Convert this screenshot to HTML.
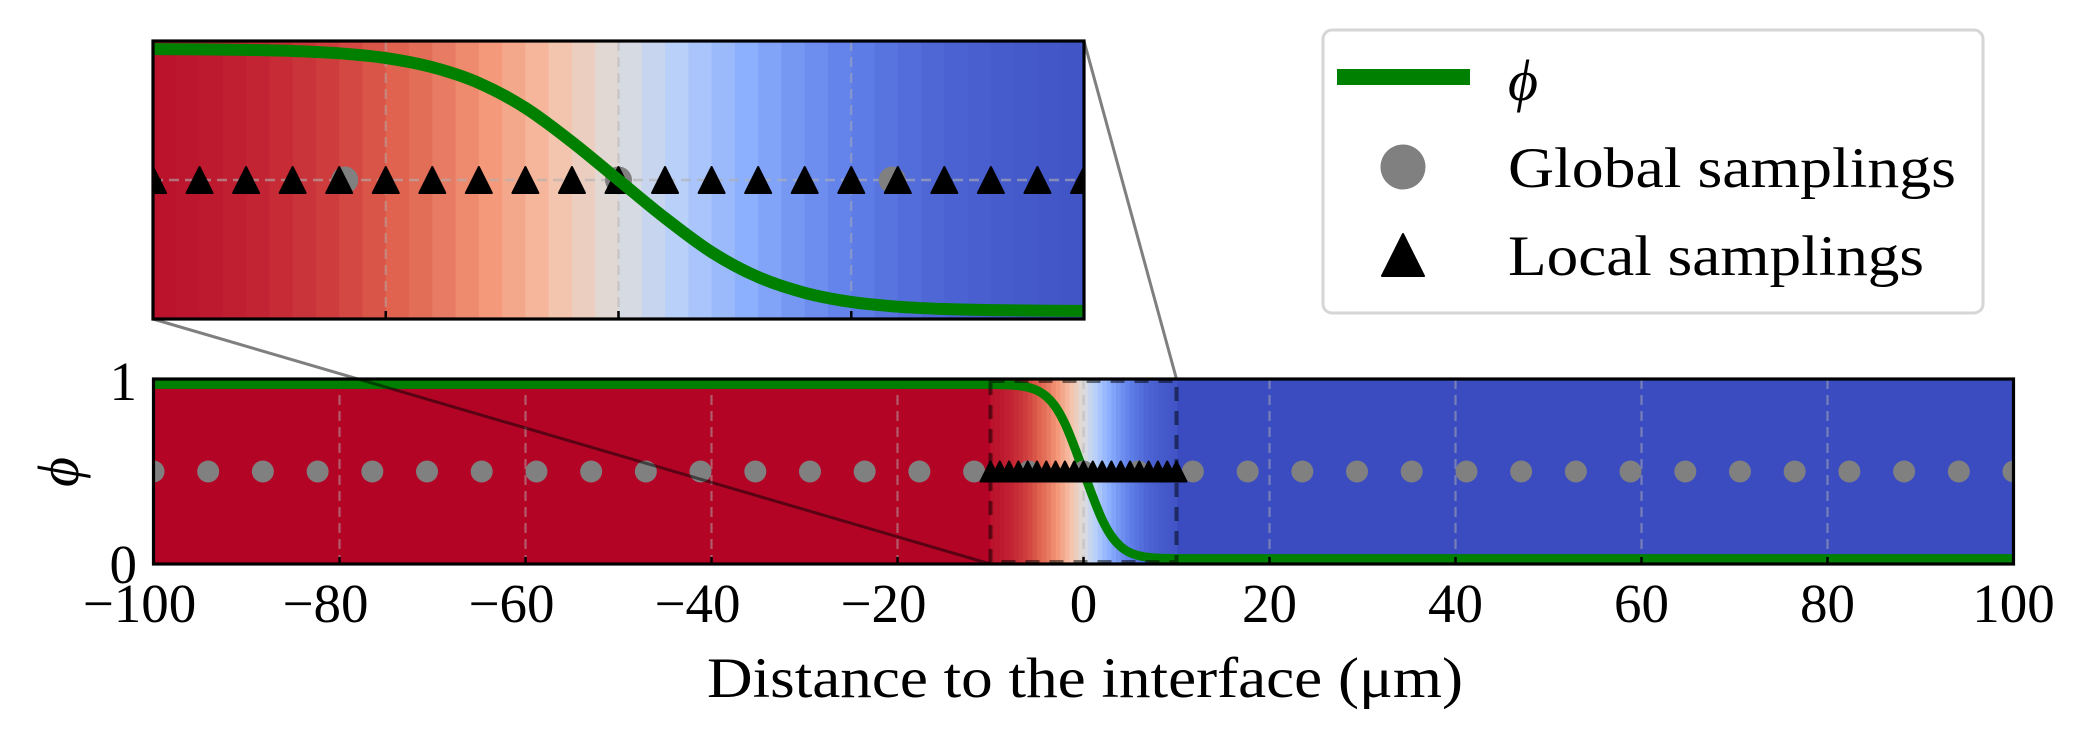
<!DOCTYPE html>
<html><head><meta charset="utf-8"><style>
html,body{margin:0;padding:0;background:#fff;width:2086px;height:745px;overflow:hidden}
svg text{font-family:"Liberation Serif","DejaVu Serif",serif;fill:#000}
</style></head><body>
<svg id="chart" width="2086" height="745" viewBox="0 0 2086 745" xmlns="http://www.w3.org/2000/svg">
<defs>
<clipPath id="clipMain"><rect x="153.5" y="379" width="1860" height="185"/></clipPath>
<clipPath id="clipInset"><rect x="153" y="41" width="931" height="278"/></clipPath>
</defs>
<g id="mainBg" clip-path="url(#clipMain)"></g>
<g id="mainGrid" clip-path="url(#clipMain)"></g>
<g id="mainMarks" clip-path="url(#clipMain)"></g>
<g id="connectors"></g>
<g id="mainFrame"></g>
<g id="insetBg" clip-path="url(#clipInset)"></g>
<g id="insetGrid" clip-path="url(#clipInset)"></g>
<g id="insetMarks" clip-path="url(#clipInset)"></g>
<g id="insetFrame"></g>
<g id="labels"></g>
<g id="legend">
  <rect x="1323" y="30" width="660" height="283" rx="9" fill="#fff" stroke="#d6d6d6" stroke-width="3"/>
  <line x1="1337" y1="77" x2="1470" y2="77" stroke="#008000" stroke-width="16"/>
  <text x="1508" y="100" font-size="58" font-style="italic">ϕ</text>
  <circle cx="1403" cy="167" r="22.5" fill="#808080"/>
  <text x="1508" y="187" font-size="57" textLength="448" lengthAdjust="spacingAndGlyphs">Global samplings</text>
  <path d="M1403 234 L1424 276 L1382 276 Z" fill="#000" stroke="#000" stroke-width="2" stroke-linejoin="round"/>
  <text x="1508" y="275" font-size="57" textLength="416" lengthAdjust="spacingAndGlyphs">Local samplings</text>
</g>
</svg>
<script>
// ---- data ----
const phiX = [-10,-9,-8,-7,-6,-5,-4,-3,-2,-1,0,1,2,3,4,5,6,7,8,9,10];
const phiV = [0.999,0.998,0.996,0.992,0.983,0.965,0.93,0.87,0.775,0.645,0.5,0.355,0.225,0.13,0.07,0.035,0.017,0.008,0.004,0.002,0.001];
const bgX = [-10,-9,-8,-7,-6,-5,-4,-3,-2,-1,0,1,2,3,4,5,6,7,8,9,10];
const bgT = [0.982,0.973,0.961,0.943,0.917,0.881,0.832,0.769,0.690,0.599,0.5,0.401,0.310,0.231,0.168,0.119,0.083,0.057,0.039,0.027,0.018];
const globalX = [-100,-94.12,-88.24,-82.35,-76.47,-70.59,-64.71,-58.82,-52.94,-47.06,-41.18,-35.29,-29.41,-23.53,-17.65,-11.76,-5.88,0,5.88,11.76,17.65,23.53,29.41,35.29,41.18,47.06,52.94,58.82,64.71,70.59,76.47,82.35,88.24,94.12,100];
const localX = [-10,-9,-8,-7,-6,-5,-4,-3,-2,-1,0,1,2,3,4,5,6,7,8,9,10];
const sampleLevel = [0.5];
const xTicks = [-100,-80,-60,-40,-20,0,20,40,60,80,100];
const yTicks = [0,1];
const insetTicks = [-5,0,5];
const zoomRange = [-10,10];

// ---- axes ----
const NS='http://www.w3.org/2000/svg';
const X=v=>153.5+(v+100)*9.3;
const Y=p=>564-(p+0.03)/1.06*185;
const XI=v=>153+(v+10)*46.55;
const YI=p=>319-(p+0.03)/1.06*278;
function mk(tag,attrs,parent){const e=document.createElementNS(NS,tag);for(const k in attrs)e.setAttribute(k,attrs[k]);parent.appendChild(e);return e;}
const $=id=>document.getElementById(id);

const CW=[[0,59,76,192],[0.125,98,130,234],[0.25,141,176,254],[0.375,184,208,249],[0.5,221,221,221],[0.625,245,196,173],[0.75,244,154,123],[0.875,222,96,77],[1,180,4,38]];
function cw(t){t=Math.max(0,Math.min(1,t));for(let i=1;i<CW.length;i++){if(t<=CW[i][0]){const a=CW[i-1],b=CW[i],f=(t-a[0])/(b[0]-a[0]);return 'rgb('+[1,2,3].map(j=>Math.round(a[j]+(b[j]-a[j])*f)).join(',')+')';}}return 'rgb(180,4,38)';}

function drawBg(g,xf,y0,y1,full){
  if(full){
    const r1=mk('rect',{x:xf(-100),y:y0,width:xf(bgX[0])-xf(-100)+1,height:y1-y0,fill:cw(1)},g);
    
    
    const r2=mk('rect',{x:xf(bgX[bgX.length-1])-1,y:y0,width:xf(100)-xf(bgX[bgX.length-1])+1,height:y1-y0,fill:cw(0)},g);
    
    
  }
  for(let i=0;i<bgX.length-1;i++){
    for(let h=0;h<2;h++){
      const xa=bgX[i]+(bgX[i+1]-bgX[i])*h/2, xb=bgX[i]+(bgX[i+1]-bgX[i])*(h+1)/2;
      const t=bgT[i]+(bgT[i+1]-bgT[i])*(h+0.5)/2;
      const c=mk('rect',{x:xf(xa),y:y0,width:xf(xb)-xf(xa)+0.8,height:y1-y0,fill:cw(t)},g);
      
      
    }
  }
}
function curvePath(xf,yf,pre,post){
  const pts=phiX.map((x,i)=>[xf(x),yf(phiV[i])]);
  let d='';
  if(pre){d+='M'+pre[0]+' '+pre[1]+' L'+pts[0][0]+' '+pts[0][1];}else d+='M'+pts[0][0]+' '+pts[0][1];
  for(let i=0;i<pts.length-1;i++){
    const p0=pts[Math.max(0,i-1)],p1=pts[i],p2=pts[i+1],p3=pts[Math.min(pts.length-1,i+2)];
    const c1=[p1[0]+(p2[0]-p0[0])/6,p1[1]+(p2[1]-p0[1])/6],c2=[p2[0]-(p3[0]-p1[0])/6,p2[1]-(p3[1]-p1[1])/6];
    d+=' C'+c1[0]+' '+c1[1]+' '+c2[0]+' '+c2[1]+' '+p2[0]+' '+p2[1];
  }
  if(post)d+=' L'+post[0]+' '+post[1];
  return d;
}
function tri(cx,cy,s){const h=s;return 'M'+cx+' '+(cy-h/2)+' L'+(cx+s/2)+' '+(cy+h/2)+' L'+(cx-s/2)+' '+(cy+h/2)+' Z';}

// ---- main axes ----
drawBg($('mainBg'),X,379,564,true);
const mg=$('mainGrid');
xTicks.forEach(v=>{
  const l=mk('line',{x1:X(v),x2:X(v),y1:379,y2:564,stroke:'#b0b0b0','stroke-opacity':0.5,'stroke-width':2.2,'stroke-dasharray':'10 6'},mg);
  
  
});
const mm=$('mainMarks');
const mc=mk('path',{d:curvePath(X,Y,[X(-100),Y(phiV[0])],[X(100),Y(phiV[phiV.length-1])]),fill:'none',stroke:'#008000','stroke-width':9},mm);


globalX.forEach(v=>{
  const c=mk('circle',{cx:X(v),cy:Y(sampleLevel[0]),r:11,fill:'#808080'},mm);
  
  
});
localX.forEach(v=>{
  const t=mk('path',{d:tri(X(v),Y(sampleLevel[0]),20),fill:'#000',stroke:'#000','stroke-width':2,'stroke-linejoin':'round'},mm);
  
  
});
const zr=mk('rect',{x:X(zoomRange[0]),y:381,width:X(zoomRange[1])-X(zoomRange[0]),height:181,fill:'none',stroke:'#000','stroke-opacity':0.5,'stroke-width':4,'stroke-dasharray':'14 10'},mm);



const cn=$('connectors');
const c1=mk('line',{x1:153,y1:319,x2:X(zoomRange[0]),y2:564,stroke:'#000','stroke-opacity':0.5,'stroke-width':3},cn);


const c2=mk('line',{x1:1084,y1:41,x2:X(zoomRange[1]),y2:379,stroke:'#000','stroke-opacity':0.5,'stroke-width':3},cn);



const mf=$('mainFrame');
xTicks.forEach(v=>{
  const t=mk('line',{x1:X(v),x2:X(v),y1:564,y2:557,stroke:'#000','stroke-width':2.5},mf);
  
  
});
const mfr=mk('rect',{x:153.5,y:379,width:1860,height:185,fill:'none',stroke:'#000','stroke-width':3.2},mf);



// ---- inset ----
drawBg($('insetBg'),XI,41,319,false);
const ig=$('insetGrid');
insetTicks.forEach(v=>{
  const l=mk('line',{x1:XI(v),x2:XI(v),y1:41,y2:319,stroke:'#b0b0b0','stroke-opacity':0.5,'stroke-width':2.2,'stroke-dasharray':'10 6'},ig);
  
  
});
const hl=mk('line',{x1:153,x2:1084,y1:YI(sampleLevel[0]),y2:YI(sampleLevel[0]),stroke:'#b0b0b0','stroke-opacity':0.6,'stroke-width':2.5,'stroke-dasharray':'10 6'},ig);


const im=$('insetMarks');
globalX.forEach(v=>{
  const c=mk('circle',{cx:XI(v),cy:YI(sampleLevel[0]),r:13.5,fill:'#808080'},im);
  
  
});
localX.forEach(v=>{
  const t=mk('path',{d:tri(XI(v),YI(sampleLevel[0]),26),fill:'#000',stroke:'#000','stroke-width':2,'stroke-linejoin':'round'},im);
  
  
});
const ic=mk('path',{d:curvePath(XI,YI,null,null),fill:'none',stroke:'#008000','stroke-width':12},im);


const inf=$('insetFrame');
insetTicks.forEach(v=>{
  const t=mk('line',{x1:XI(v),x2:XI(v),y1:319,y2:311,stroke:'#000','stroke-width':2.5},inf);
  
  
});
const iyt=mk('line',{x1:153,x2:161,y1:YI(sampleLevel[0]),y2:YI(sampleLevel[0]),stroke:'#000','stroke-width':2.5},inf);


const ifr=mk('rect',{x:153,y:41,width:931,height:278,fill:'none',stroke:'#000','stroke-width':3.2},inf);



// ---- labels ----
const lb=$('labels');
xTicks.forEach(v=>{
  const t=mk('text',{x:X(v)-(v<0?14:0),y:622,'font-size':55,'text-anchor':'middle'},lb);
  t.textContent=(v<0?'\u2212':'')+Math.abs(v);
  
  
});
yTicks.forEach(v=>{
  const t=mk('text',{x:137,y:(v===1?400:583),'font-size':55,'text-anchor':'end'},lb);
  t.textContent=String(v);
  
  
});
const xt=mk('text',{x:1085,y:697,'font-size':57,'text-anchor':'middle',textLength:756,lengthAdjust:'spacingAndGlyphs'},lb);
xt.textContent='Distance to the interface (\u03bcm)';


const yt=mk('text',{x:0,y:0,'font-size':58,'font-style':'italic','text-anchor':'middle',transform:'translate(78,472) rotate(-90)'},lb);
yt.textContent='\u03d5';


</script>
</body></html>
